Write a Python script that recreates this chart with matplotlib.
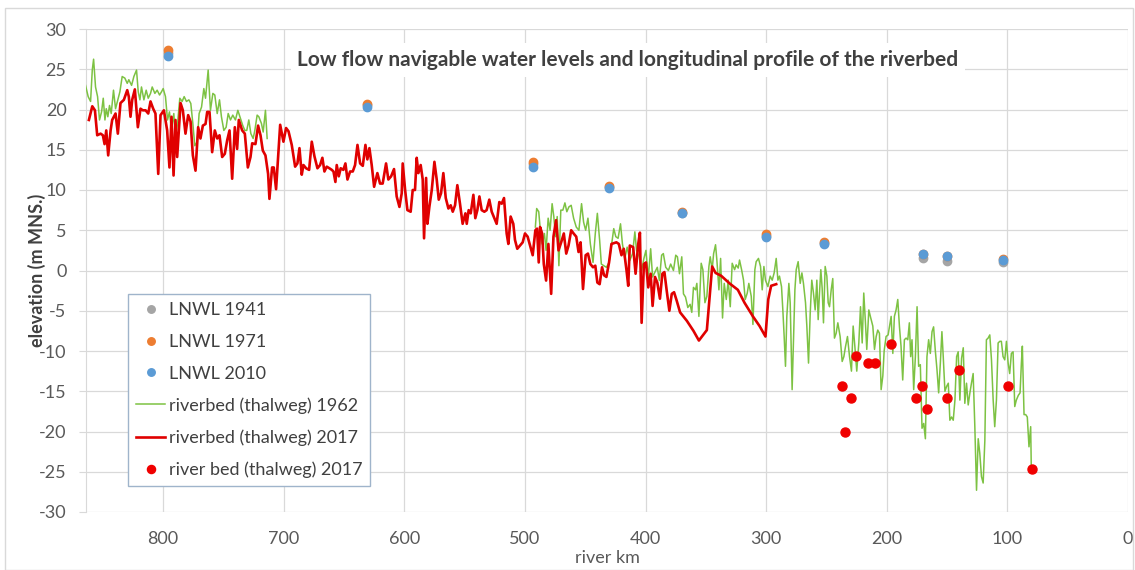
import numpy as np
import matplotlib
matplotlib.use("Agg")
import matplotlib.pyplot as plt
from matplotlib.patches import Rectangle

plt.rcParams['font.family'] = ['Lato', 'DejaVu Sans']
plt.rcParams['axes.unicode_minus'] = False

# ---- LNWL points ----
lnwl_km = [796, 631, 493, 430, 370, 300, 252, 170, 150, 104]
lnwl_1941 = [27.0, 20.5, 13.2, 10.4, 7.2, 4.3, 3.4, 1.5, 1.2, 1.0]
lnwl_1971 = [27.4, 20.7, 13.5, 10.5, 7.3, 4.5, 3.5, 2.0, 1.8, 1.4]
lnwl_2010 = [26.7, 20.3, 12.9, 10.3, 7.2, 4.2, 3.3, 2.1, 1.8, 1.3]

# ---- river bed 2017 survey points ----
dots_km = [237.4, 234.6, 229.7, 225.3, 215.8, 209.8, 196.8, 175.5, 171.1, 166.4, 150.1, 140.4, 99.8, 79.6]
dots_elev = [-14.3, -20.0, -15.8, -10.6, -11.5, -11.5, -9.1, -15.8, -14.3, -17.2, -15.8, -12.4, -14.3, -24.6]

# ---- riverbed (thalweg) 2017 line ----
red_km = [861.6, 858.8, 856.6, 854.7, 851.9, 850.0, 848.6, 847.2, 845.6, 843.6, 842.3, 839.5, 837.6, 835.4,
          832.6, 829.8, 828.5, 827.1, 825.7, 823.5, 821.0, 818.8, 816.9, 814.6, 812.4, 810.5, 808.3, 806.4,
          804.1, 802.2, 799.4, 796.7, 794.8, 793.1, 791.4, 789.8, 788.4, 785.6, 783.7, 781.5, 779.3, 777.3,
          775.4, 773.2, 771.0, 769.1, 767.1, 764.9, 763.5, 761.6, 759.4, 757.2, 755.2, 753.3, 751.1, 748.9,
          746.9, 745.0, 742.8, 740.6, 738.7, 737.3, 734.5, 732.3, 729.8, 727.6, 726.2, 723.5, 721.3, 719.3,
          717.4, 715.2, 713.0, 711.9, 709.7, 708.3, 706.4,
          703.0, 700.3, 698.1, 696.1, 693.4, 690.6, 688.7, 687.0, 685.1, 683.7, 681.5, 679.0, 676.8, 674.6,
          672.1, 669.9, 668.0, 666.3, 664.4, 662.2, 660.2, 658.8, 657.2, 656.1, 654.4, 652.8, 650.6, 648.9,
          647.2, 645.0, 642.8, 640.9, 638.9, 636.7, 634.5, 632.3, 630.7, 629.0, 627.1, 625.1, 622.4, 620.2,
          618.0, 615.2, 613.3, 611.0, 608.6, 606.4, 604.1, 602.2, 601.4, 599.4, 597.5, 594.8, 593.1, 591.2,
          589.8, 588.4, 586.5, 584.8, 583.7, 582.0, 580.9, 579.3, 577.3, 575.1, 573.2, 571.5, 569.6, 567.7,
          565.7, 563.5, 561.6, 559.9, 558.0, 556.1, 553.9, 551.7, 549.4, 548.3, 546.7, 545.0, 542.8, 541.2,
          539.5, 537.8, 535.9, 533.7, 531.8, 529.6, 527.6, 525.4, 523.5, 521.3, 519.3, 517.4, 515.2, 513.8,
          511.9, 509.7, 508.3, 506.4,
          501.9, 500.0, 497.8, 495.8, 493.6, 491.4, 490.0, 488.6, 487.5, 485.8, 484.4, 482.5, 480.6, 478.3,
          476.4, 474.2, 472.2, 470.0, 467.8, 465.8, 463.9, 461.7, 459.7, 457.5, 455.6, 453.9, 451.9, 449.7,
          447.8, 445.8, 443.6, 441.7, 440.0, 438.1, 436.1, 434.4, 432.5, 430.3, 428.3, 424.2, 422.2, 420.0,
          418.1, 415.8, 414.4, 413.1, 410.3, 408.3, 406.1, 404.7, 403.3, 401.4, 399.7, 397.8, 395.8, 394.2,
          392.2, 390.3, 388.1, 386.1, 384.4, 382.5, 380.3, 378.3, 376.4, 374.2, 371.4, 365.8, 360.3,
          355.8, 349.2, 344.8, 342.0, 337.3, 330.4, 323.5, 318.0, 311.0, 305.5, 300.6, 298.3, 295.9, 291.7]
red_elev = [18.7, 20.4, 19.9, 16.8, 17.0, 16.8, 15.7, 17.4, 14.3, 17.4, 18.7, 19.5, 17.0, 20.8,
            21.2, 22.4, 21.6, 19.1, 21.2, 22.5, 17.8, 20.1, 19.9, 19.9, 19.5, 21.0, 20.1, 19.5,
            12.0, 19.3, 19.9, 17.4, 12.8, 19.1, 11.8, 18.7, 14.1, 20.8, 19.9, 17.0, 19.3, 18.5,
            14.3, 12.4, 17.8, 16.4, 18.0, 18.2, 19.7, 19.7, 14.7, 17.4, 16.4, 16.8, 14.1, 14.5,
            16.2, 17.4, 11.4, 17.8, 15.1, 18.7, 17.4, 17.0, 12.8, 14.1, 15.8, 15.7, 18.0, 16.8,
            14.9, 14.3, 12.0, 8.9, 12.8, 12.8, 10.1,
            18.1, 16.0, 17.7, 17.3, 15.6, 12.9, 13.3, 15.2, 11.9, 13.1, 12.7, 12.5, 16.0, 14.2,
            12.7, 13.1, 14.0, 12.3, 12.9, 12.7, 12.5, 12.3, 11.0, 13.1, 11.7, 12.7, 12.5, 13.3,
            11.3, 12.3, 12.3, 13.1, 15.6, 13.3, 13.0, 15.6, 13.8, 15.2, 13.1, 10.4, 12.1, 10.8,
            10.8, 13.3, 11.3, 11.7, 12.6, 9.2, 7.9, 9.6, 13.3, 10.0, 7.5, 7.3, 10.0, 10.0,
            14.0, 12.1, 13.1, 11.3, 4.0, 11.5, 5.8, 7.9, 10.0, 13.5, 11.3, 8.8, 9.6, 12.1,
            9.0, 7.7, 8.1, 7.3, 8.1, 10.6, 8.3, 5.8, 7.1, 5.8, 7.5, 7.1, 9.4, 6.5,
            7.5, 9.2, 7.5, 7.3, 7.5, 8.8, 7.3, 6.5, 5.8, 8.5, 8.3, 9.0, 4.6, 3.3,
            6.7, 5.8, 3.8, 2.7,
            3.5, 4.6, 4.2, 3.1, 1.9, 5.0, 5.2, 1.0, 5.4, 4.6, 0.8, -1.25, 3.3, -2.9,
            4.2, 6.25, 2.5, 3.5, 4.6, 2.1, 3.1, 5.0, 4.6, 4.2, 2.3, 3.5, -2.3, 1.9,
            2.1, 0.8, 0.4, 0.6, -1.5, -1.7, 0.4, -0.6, -0.8, 1.0, 3.3, 3.5, 3.3, 1.9,
            2.7, 0.0, -1.9, 3.1, 2.9, -0.4, 3.3, 4.7, -6.5, 0.8, 1.0, -2.1, -0.4, -4.4,
            -0.8, -1.5, -3.5, -0.4, -0.2, -2.5, -5.0, -2.9, -2.7, -3.75, -5.2, -6.25, -7.5,
            -8.7, -7.4, 0.5, -0.3, -0.66, -1.6, -2.4, -4.0, -5.7, -6.9, -8.2, -3.6, -1.9, -1.7]

# ---- riverbed (thalweg) 1962 line (NaN = no data) ----
green_km = [864.4, 862.2, 860.2, 858.8, 857.7, 856.1, 854.4, 852.8, 851.1, 849.7, 848.3, 847.2, 845.9, 844.5,
            843.1, 841.2, 839.5, 837.6, 835.9, 834.0, 831.8, 829.8, 828.5, 826.2, 824.3, 822.1, 820.7, 819.3,
            818.0, 816.0, 814.1, 812.4, 810.5, 809.1, 806.9, 805.0, 803.0, 801.4, 800.0, 798.1, 796.4, 794.8,
            793.1, 791.2, 789.8, 788.1, 786.2, 784.3, 782.6, 780.7, 778.7, 777.1, 775.4, 773.8, 771.8, 770.2,
            768.2, 766.3, 764.9, 762.7, 760.8, 758.8, 757.2, 755.2, 753.3, 751.7, 749.7, 747.8, 746.1, 744.2,
            742.3, 740.1, 738.1, 735.9, 734.0, 732.3, 730.7, 729.0, 727.3, 725.4, 724.0, 722.1, 720.7, 718.5,
            717.1, 715.2, 713.8,
            600.0,
            491.4, 490.3, 488.6, 487.5, 485.8, 483.9, 482.5, 480.8, 479.2, 477.5, 476.1, 474.7, 473.3, 471.9,
            470.3, 468.6, 466.9, 465.3, 463.6, 461.7, 459.7, 457.5, 455.3, 453.1, 451.4, 449.7, 447.8, 445.8,
            443.6, 441.7, 440.0, 438.1, 436.7, 434.7, 432.5, 430.3, 428.3, 426.4, 424.7, 422.8, 420.8, 419.2,
            417.2, 415.3, 413.1, 410.8, 408.9, 407.5, 405.3, 403.3, 401.4, 399.7, 397.8, 395.8, 394.2, 392.2,
            390.3, 388.6, 386.7, 385.3, 383.3, 381.1, 379.2, 376.9, 375.0, 373.6, 371.9, 370.0, 368.6, 366.9,
            365.0, 363.1, 361.7, 360.3,
            358.6, 357.5, 355.8, 353.9, 352.5, 350.8, 349.2, 347.5, 346.4, 344.8, 343.6, 342.0, 340.9, 339.2,
            337.8, 336.2, 334.8, 333.1, 331.5, 329.8, 328.2, 326.2, 324.9, 323.2, 322.1, 320.4, 318.8, 317.4,
            315.7, 314.4, 312.4, 311.0, 309.4, 308.3, 306.4, 304.7, 303.3, 301.9, 300.6, 298.6, 296.7, 295.0,
            293.4, 291.7, 290.3, 289.0, 287.3, 286.2, 285.1, 284.0, 282.9, 281.2, 280.1, 278.5, 277.3, 276.2,
            275.1, 273.5, 271.8, 270.4, 269.1, 267.4, 266.3, 264.9, 263.5, 262.2, 260.8, 259.4, 258.0, 256.9,
            255.8, 254.7, 253.6, 252.5, 251.1, 249.7, 248.6, 247.5, 246.1, 244.8, 243.4, 242.0, 240.6, 238.7,
            237.0, 235.6, 234.3, 232.6, 230.9, 229.3, 227.9, 226.5, 224.9, 223.2, 221.8, 220.4, 219.1, 217.7,
            216.6, 214.9, 213.3, 211.6, 210.2, 208.8, 207.5, 206.1, 204.7, 203.3, 202.2, 200.6, 198.9,
            196.4, 195.0, 193.7, 192.3, 190.9, 189.5, 188.2, 186.8, 185.4, 184.0, 182.6, 181.3, 180.2, 179.1,
            177.7, 176.3, 174.9, 173.6, 172.2, 170.8, 169.4, 168.0, 166.7, 165.3, 163.9, 162.5, 161.2, 159.8,
            158.4, 157.0, 155.6, 154.3, 153.2, 151.8, 150.4, 149.0, 147.7, 146.3, 144.9, 143.5, 142.1, 140.8,
            139.4, 138.0, 136.6, 135.3, 133.9, 132.5, 131.1, 129.8, 128.4, 127.0, 125.6, 124.2, 122.9, 121.5,
            120.1, 118.7, 117.4, 116.0, 114.6, 113.2, 111.8, 110.5, 109.1, 107.7, 106.3, 105.0, 103.6, 102.2,
            100.8, 99.4, 98.1, 96.7, 95.3, 93.9, 92.6, 90.9, 89.5, 88.4, 87.6, 86.2, 84.8, 83.5,
            82.1, 80.7, 80.2]
green_elev = [23.0, 21.6, 21.0, 24.9, 26.25, 22.8, 21.6, 18.7, 19.7, 21.4, 18.7, 20.1, 19.1, 20.5,
              19.5, 22.4, 20.1, 21.2, 22.2, 24.1, 23.9, 23.25, 23.7, 23.0, 24.1, 24.9, 22.2, 21.2,
              22.8, 21.2, 22.4, 21.4, 22.0, 22.8, 22.0, 22.4, 21.8, 22.2, 22.6, 21.6, 18.7, 19.7,
              17.4, 19.5, 16.6, 18.25, 21.4, 21.0, 21.6, 21.0, 21.2, 20.75, 18.25, 15.5, 16.0, 19.5,
              20.3, 22.6, 21.4, 24.9, 19.9, 22.0, 21.8, 19.5, 21.2, 19.1, 17.4, 17.8, 19.5, 18.7,
              19.3, 18.7, 19.9, 18.9, 18.0, 17.4, 17.4, 18.7, 17.0, 16.4, 17.4, 19.3, 19.1, 18.25,
              17.2, 19.9, 16.4,
              np.nan,
              5.4, 7.7, 7.3, 5.4, 3.3, 4.6, 2.5, 6.5, 5.0, 8.3, 6.7, 4.2, 6.7, 0.6,
              7.5, 7.5, 8.4, 7.3, 7.9, 8.1, 6.5, 5.4, 5.0, 8.3, 6.0, 5.0, 6.5, 3.3,
              1.0, 4.6, 7.1, 3.75, 0.8, 0.6, 0.4, 1.0, 3.1, 5.2, 4.2, 4.0, 5.8, 3.3,
              1.5, 2.9, 1.25, 2.1, 4.8, 2.5, 1.7, 0.0, 1.5, 2.5, -1.0, 2.7, -0.8, -0.2,
              0.4, -1.25, 1.9, 2.1, 0.4, 0.0, 0.8, 0.0, 1.9, 1.7, -0.4, 1.7, -2.9, -3.3,
              -4.6, -4.2, -5.2, -2.1,
              -2.4, -1.6, -5.7, 0.9, 0.1, -4.0, -3.2, 0.5, 1.7, 0.1, 2.1, 3.2, 1.3, -2.4,
              1.5, -5.9, -1.6, -3.6, -1.2, -4.5, 0.9, 0.1, 0.7, 0.3, 1.3, 0.1, -1.2, -3.6,
              -2.8, -1.6, -3.2, -6.7, 0.1, 1.1, 1.5, 0.5, -2.4, 0.5, -1.2, -2.0, -0.7, -1.2,
              -0.3, 1.5, -1.2, -0.7, -2.0, -4.9, -8.2, -11.9, -5.7, -1.6, -4.0, -14.8, -8.2, -2.4,
              0.1, 1.1, -1.6, -0.3, -1.6, -4.0, -6.9, -11.5, -5.3, -1.2, -2.8, -4.9, -1.2, -6.1,
              -2.8, 0.1, -2.2, -6.5, 0.5, -0.7, -4.0, -4.5, -2.4, -1.0, -8.4, -7.8, -6.5, -8.2,
              -11.3, -10.7, -9.5, -8.2, -10.7, -12.5, -6.9, -9.4, -12.5, -9.0, -4.5, -9.0, -2.8, -6.5,
              -9.8, -4.9, -5.9, -6.9, -9.8, -8.2, -7.4, -7.8, -14.8, -13.1, -10.0, -8.2, -8.0,
              -5.7, -10.3, -5.7, -4.9, -3.6, -7.0, -9.4, -13.6, -8.6, -8.4, -8.6, -6.5, -10.7, -8.6,
              -14.8, -10.7, -4.5, -11.9, -11.7, -19.6, -19.0, -20.9, -10.7, -8.6, -10.3, -7.6, -7.0, -9.9,
              -12.3, -15.2, -11.5, -7.6, -10.7, -15.0, -14.4, -14.0, -18.6, -18.2, -18.6, -16.1, -10.7, -10.1,
              -16.1, -10.9, -9.6, -16.5, -14.0, -16.7, -15.2, -14.0, -12.8, -19.4, -27.3, -20.9, -22.7, -25.6,
              -26.4, -21.1, -8.6, -8.4, -8.0, -11.1, -16.1, -19.4, -16.1, -9.0, -8.8, -8.8, -10.7, -11.1,
              -8.8, -11.5, -12.8, -10.3, -10.1, -16.9, -16.1, -15.5, -15.2, -11.5, -9.4, -17.9, -17.9, -18.2,
              -21.9, -19.4, -24.4]

x_ticks = [800, 700, 600, 500, 400, 300, 200, 100, 0]
y_ticks = [30, 25, 20, 15, 10, 5, 0, -5, -10, -15, -20, -25, -30]

title = "Low flow navigable water levels and longitudinal profile of the riverbed"

W, H = 1135, 570
fig = plt.figure(figsize=(W / 100, H / 100), dpi=100)
fig.patches.append(Rectangle((5 / W, 0), 1128 / W, 1 - 8 / H, transform=fig.transFigure,
                             fill=False, edgecolor='#D9D9D9', linewidth=1.0))
ax = fig.add_axes([86 / W, 1 - 512 / H, (1128 - 86) / W, (512 - 29) / H])

ax.plot(green_km, green_elev, color='#7DC243', lw=1.1, label='riverbed (thalweg) 1962', zorder=3)
ax.plot(red_km, red_elev, color='#E00000', lw=1.9, label='riverbed (thalweg) 2017', zorder=4)
ax.plot(lnwl_km, lnwl_1941, 'o', color='#A5A5A5', ms=6, label='LNWL 1941', zorder=5)
ax.plot(lnwl_km, lnwl_1971, 'o', color='#ED7D31', ms=6, label='LNWL 1971', zorder=6)
ax.plot(lnwl_km, lnwl_2010, 'o', color='#5B9BD5', ms=6, label='LNWL 2010', zorder=7)
ax.plot(dots_km, dots_elev, 'o', color='#F00000', ms=6.5, label='river bed (thalweg) 2017', zorder=8)

ax.set_xlim(864, 0)
ax.set_ylim(-30, 30)
ax.set_xticks(x_ticks)
ax.set_yticks(y_ticks)
ax.grid(True, color='#D9D9D9', lw=0.9, zorder=0)
ax.set_axisbelow(True)
for s in ['top', 'right', 'bottom']:
    ax.spines[s].set_visible(False)
ax.spines['left'].set_color('#D9D9D9')
ax.tick_params(axis='y', length=5, color='#D9D9D9', labelsize=13, labelcolor='#595959', pad=9)
ax.tick_params(axis='x', length=0, labelsize=13, labelcolor='#595959', pad=14)

ax.set_xlabel('river km', fontsize=13, color='#595959', labelpad=2)
ax.set_ylabel('elevation (m MNS.)', fontsize=13, fontweight='bold', color='#404040', labelpad=-5)

fig.text(628 / W, 1 - 60 / H, title, fontsize=15, fontweight='bold', color='#404040',
         ha='center', va='center',
         bbox=dict(facecolor='white', edgecolor='none', pad=5), zorder=10)

handles, labels = ax.get_legend_handles_labels()
order = ['LNWL 1941', 'LNWL 1971', 'LNWL 2010', 'riverbed (thalweg) 1962',
         'riverbed (thalweg) 2017', 'river bed (thalweg) 2017']
hmap = dict(zip(labels, handles))
leg = ax.legend([hmap[l] for l in order], order, loc='upper left',
                bbox_to_anchor=(128 / W, 1 - 294 / H), bbox_transform=fig.transFigure,
                borderaxespad=0, fancybox=False, framealpha=1, edgecolor='#9FB4CB',
                fontsize=13, labelspacing=0.87, handlelength=1.6, handletextpad=0.2,
                borderpad=0.45, markerscale=0.9)
leg.get_frame().set_linewidth(1.0)
for t in leg.get_texts():
    t.set_color('#404040')

fig.savefig('out.png', dpi=100)
